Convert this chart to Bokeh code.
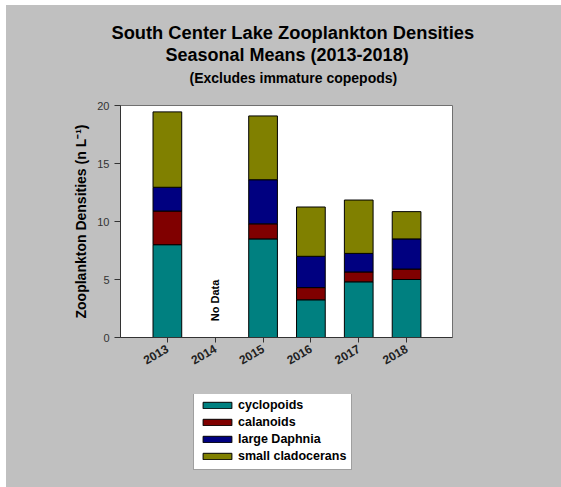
from bokeh.plotting import figure
from bokeh.models import (ColumnDataSource, Legend, LegendItem, Title, Label,
                          FixedTicker, Range1d)
from bokeh.layouts import column
from bokeh.embed import file_html
from bokeh.resources import INLINE
import math

years = ["2013", "2014", "2015", "2016", "2017", "2018"]
cyclopoids = [8.0, None, 8.5, 3.25, 4.8, 5.0]
calanoids = [2.9, None, 1.3, 1.05, 0.85, 0.9]
large_daphnia = [2.05, None, 3.8, 2.7, 1.6, 2.6]
small_cladocerans = [6.5, None, 5.5, 4.25, 4.6, 2.35]
series_names = ["cyclopoids", "calanoids", "large Daphnia", "small cladocerans"]
series_colors = ["#008080", "#800000", "#000080", "#808000"]
y_ticks = [0, 5, 10, 15, 20]
no_data_year = "2014"

idx = [i for i, v in enumerate(cyclopoids) if v is not None]
src = ColumnDataSource(dict(
    x=idx,
    cyc=[cyclopoids[i] for i in idx],
    cal=[calanoids[i] for i in idx],
    dap=[large_daphnia[i] for i in idx],
    sml=[small_cladocerans[i] for i in idx],
))
stack_cols = ["cyc", "cal", "dap", "sml"]

FONT = "Liberation Sans"
BG = "#c0c0c0"

p = figure(frame_width=332, frame_height=232, output_backend="svg", toolbar_location=None,
           x_range=Range1d(-0.98, 5.96), y_range=Range1d(0, 20),
           background_fill_color="white", border_fill_color=BG,
           min_border_left=114, min_border_right=109,
           min_border_top=100, min_border_bottom=57)
p.outline_line_color = "#707070"
p.grid.visible = False

rs = p.vbar_stack(stack_cols, x="x", width=0.6, source=src,
                  color=series_colors, line_color="black", line_width=1)

# axes
p.yaxis.ticker = FixedTicker(ticks=y_ticks)
p.yaxis.axis_label = "Zooplankton Densities (n L\u207b\u00b9)"
p.yaxis.axis_label_text_font = FONT
p.yaxis.axis_label_text_font_size = "14px"
p.yaxis.axis_label_text_font_style = "bold"
p.yaxis.axis_label_text_color = "black"
p.yaxis.major_label_text_font = FONT
p.yaxis.major_label_text_font_size = "11px"
p.yaxis.major_label_text_color = "#333333"
p.yaxis.minor_tick_line_color = None
p.yaxis.major_tick_out = 6
p.yaxis.major_tick_in = 0
p.yaxis.axis_line_color = "#333333"
p.yaxis.major_tick_line_color = "#333333"

p.xaxis.ticker = FixedTicker(ticks=list(range(len(years))))
p.xaxis.major_label_overrides = {i: y for i, y in enumerate(years)}
p.xaxis.major_label_orientation = math.radians(30)
p.xaxis.major_label_text_font = FONT
p.xaxis.major_label_text_font_size = "12px"
p.xaxis.major_label_text_font_style = "bold"
p.xaxis.major_label_text_color = "#222222"
p.xaxis.minor_tick_line_color = None
p.xaxis.major_tick_out = 5
p.xaxis.major_tick_in = 0
p.xaxis.axis_line_color = "#333333"
p.xaxis.major_tick_line_color = "#333333"

# No Data label
p.add_layout(Label(x=years.index(no_data_year), y=3.2, text="No Data", angle=math.pi / 2,
                   text_align="center", text_baseline="middle",
                   text_font=FONT, text_font_size="11px", text_font_style="bold",
                   text_color="black"))

# titles (spacer first, closest to the plot)
p.add_layout(Title(text=" ", text_font_size="10px", standoff=7), "above")
p.add_layout(Title(text="(Excludes immature copepods)", align="left", offset=69,
                   text_font=FONT, text_font_size="14px", text_font_style="bold",
                   text_color="black", standoff=0), "above")
p.add_layout(Title(text="Seasonal Means (2013-2018)", align="left", offset=45,
                   text_font=FONT, text_font_size="18px", text_font_style="bold",
                   text_color="black", standoff=5), "above")
p.add_layout(Title(text="South Center Lake Zooplankton Densities", align="left", offset=-9,
                   text_font=FONT, text_font_size="18.3px", text_font_style="bold",
                   text_color="black", standoff=-4), "above")

# legend panel (separate strip below the chart); its bars lie outside its view
pl = figure(width=555, height=93, output_backend="svg", toolbar_location=None,
            x_range=Range1d(100, 101), y_range=Range1d(100, 101),
            x_axis_location=None, y_axis_location=None,
            background_fill_color=BG, border_fill_color=BG, min_border=0)
pl.outline_line_color = None
pl.grid.visible = False
lrs = pl.vbar_stack(stack_cols, x="x", width=0.6, source=src,
                    color=series_colors, line_color="black", line_width=1)
items = [LegendItem(label=n, renderers=[r]) for n, r in zip(series_names, lrs)]
legend = Legend(items=items, location=(73, 17),
                label_text_font=FONT, label_text_font_size="12.5px",
                label_text_font_style="bold", label_text_color="black",
                glyph_width=36, glyph_height=8, label_height=16, label_standoff=3,
                spacing=1, padding=5, margin=0,
                border_line_color="#404040", border_line_width=1,
                background_fill_color="white", background_fill_alpha=1)
pl.add_layout(legend, "center")

layout = column(p, pl, spacing=0, margin=(5, 0, 0, 6), background=BG)

open("out.html", "w").write(file_html(layout, INLINE))
